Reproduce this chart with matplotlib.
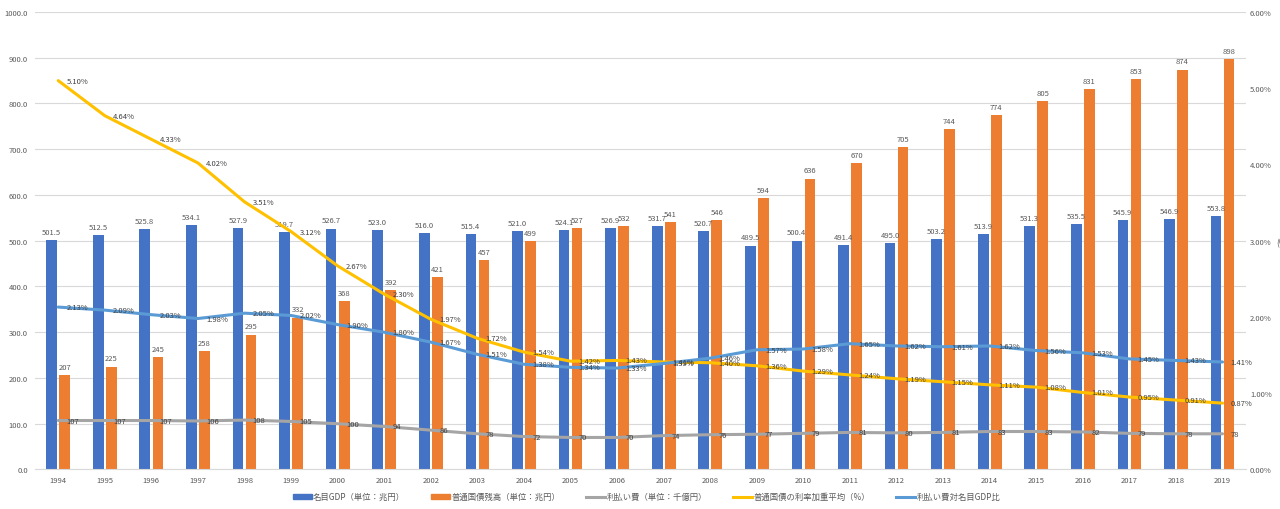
"""
Japan: nominal GDP, outstanding JGBs, interest payments and rates (1994-2019).
Excel-style combo chart: clustered bars on the left axis, lines on both axes.
"""

import matplotlib
matplotlib.use("Agg")
import matplotlib.pyplot as plt
import matplotlib.ticker as mticker
from matplotlib.lines import Line2D
from matplotlib.patches import Patch
import numpy as np

plt.rcParams["font.family"] = ["Noto Sans CJK JP", "DejaVu Sans"]

# ---------------------------------------------------------------------------
# Data
# ---------------------------------------------------------------------------
years = [str(y) for y in range(1994, 2020)]

gdp = [501.5, 512.5, 525.8, 534.1, 527.9, 519.7, 526.7, 523.0, 516.0, 515.4,
       521.0, 524.1, 526.9, 531.7, 520.7, 489.5, 500.4, 491.4, 495.0, 503.2,
       513.9, 531.3, 535.5, 545.9, 546.9, 553.8]

debt = [207, 225, 245, 258, 295, 332, 368, 392, 421, 457,
        499, 527, 532, 541, 546, 594, 636, 670, 705, 744,
        774, 805, 831, 853, 874, 898]

interest = [107, 107, 107, 106, 108, 105, 100, 94, 86, 78,
            72, 70, 70, 74, 76, 77, 79, 81, 80, 81,
            83, 83, 82, 79, 78, 78]

rate = [5.10, 4.64, 4.33, 4.02, 3.51, 3.12, 2.67, 2.30, 1.97, 1.72,
        1.54, 1.42, 1.43, 1.41, 1.40, 1.36, 1.29, 1.24, 1.19, 1.15,
        1.11, 1.08, 1.01, 0.95, 0.91, 0.87]

ratio = [2.13, 2.09, 2.03, 1.98, 2.05, 2.02, 1.90, 1.80, 1.67, 1.51,
         1.38, 1.34, 1.33, 1.39, 1.46, 1.57, 1.58, 1.65, 1.62, 1.61,
         1.62, 1.56, 1.53, 1.45, 1.43, 1.41]

labels = ["名目GDP（単位：兆円）", "普通国債残高（単位：兆円）",
          "利払い費（単位：千億円）", "普通国債の利率加重平均（%）",
          "利払い費対名目GDP比"]

# ---------------------------------------------------------------------------
# Styling
# ---------------------------------------------------------------------------
BLUE = "#4472C4"
ORANGE = "#ED7D31"
GRAY = "#A5A5A5"
YELLOW = "#FFC000"
LBLUE = "#5B9BD5"
GRID = "#D9D9D9"
TICK = "#595959"
LABEL = "#404040"
FS = 5.5      # numbers
FS_LEG = 6.0  # legend

fig = plt.figure(figsize=(12.8, 5.1), dpi=100)
ax = fig.add_axes([0.0273, 0.0775, 0.946, 0.897])
ax2 = ax.twinx()

x = np.arange(len(years))
bw = 0.23
off = 0.14

b1 = ax.bar(x - off, gdp, bw, color=BLUE, zorder=2)
b2 = ax.bar(x + off, debt, bw, color=ORANGE, zorder=2)
ax.plot(x, interest, color=GRAY, lw=2.2, zorder=3, solid_capstyle="round")

ax2.plot(x, rate, color=YELLOW, lw=2.2, zorder=3, solid_capstyle="round")
ax2.plot(x, ratio, color=LBLUE, lw=2.2, zorder=3, solid_capstyle="round")

# bar value labels
for bars, vals, fmt in ((b1, gdp, "{:.1f}"), (b2, debt, "{:d}")):
    for r, v in zip(bars, vals):
        ax.annotate(fmt.format(v), (r.get_x() + r.get_width() / 2, v),
                    xytext=(0, 3), textcoords="offset points",
                    ha="center", va="bottom", fontsize=FS, color=TICK)

# line value labels (to the right of each point)
for xi, v in zip(x, interest):
    ax.annotate(f"{v}", (xi, v), xytext=(6, 0), textcoords="offset points",
                ha="left", va="center", fontsize=FS, color=LABEL, zorder=5)
for series in (rate, ratio):
    for xi, v in zip(x, series):
        ax2.annotate(f"{v:.2f}%", (xi, v), xytext=(6, 0),
                     textcoords="offset points", ha="left", va="center",
                     fontsize=FS, color=LABEL, zorder=5)

# axes
ax.set_xlim(-0.5, len(years) - 0.5)
ax.set_ylim(0, 1000)
ax.set_yticks(np.arange(0, 1001, 100))
ax.yaxis.set_major_formatter(mticker.FormatStrFormatter("%.1f"))
ax.set_xticks(x)
ax.set_xticklabels(years)
ax2.set_ylim(0, 6)
ax2.set_yticks(np.arange(0, 6.01, 1))
ax2.yaxis.set_major_formatter(mticker.FormatStrFormatter("%.2f%%"))

ax.grid(axis="y", color=GRID, lw=0.8, zorder=0)
ax.set_axisbelow(True)
for a in (ax, ax2):
    for s in a.spines.values():
        s.set_visible(False)
    a.tick_params(length=0, labelsize=FS, colors=TICK)
ax.spines["bottom"].set_visible(True)
ax.spines["bottom"].set_color(GRID)
ax.tick_params(axis="y", pad=5)
ax.tick_params(axis="x", pad=5)
ax2.tick_params(axis="y", pad=3)

# cut-off right axis title
fig.text(0.997, 0.523, "(%)", fontsize=FS_LEG, color=TICK, ha="left", va="center")

# legend
handles = [Patch(color=BLUE), Patch(color=ORANGE),
           Line2D([], [], color=GRAY, lw=2.2),
           Line2D([], [], color=YELLOW, lw=2.2),
           Line2D([], [], color=LBLUE, lw=2.2)]
fig.legend(handles, labels, loc="center", bbox_to_anchor=(0.505, 0.024),
           ncol=5, frameon=False, fontsize=FS_LEG, handlelength=2.3,
           handleheight=0.55, columnspacing=3.1, handletextpad=0.15,
           labelcolor=TICK)

fig.savefig("out.png", dpi=100)
